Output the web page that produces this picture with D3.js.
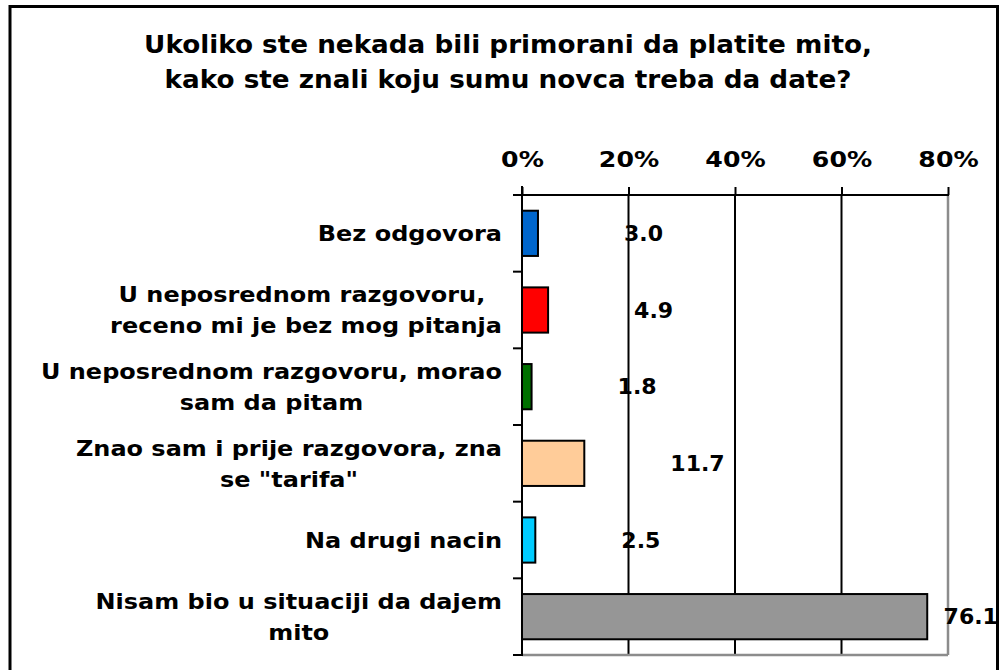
<!DOCTYPE html>
<html>
<head>
<meta charset="utf-8">
<script src="https://cdn.jsdelivr.net/npm/d3@7"></script>
<style>
  html, body { margin: 0; padding: 0; background: #fff; }
  svg text { font-family: "DejaVu Sans", Verdana, sans-serif; font-weight: bold; fill: #000; white-space: pre; }
</style>
</head>
<body>
<svg id="chart" width="999" height="670"></svg>
<script>
// ---- data ----
const titleLines = ["Ukoliko ste nekada bili primorani da platite mito,", "kako ste znali koju sumu novca treba da date?"];
const categories = [
  "Bez odgovora",
  "U neposrednom razgovoru, \nreceno mi je bez mog pitanja",
  "U neposrednom razgovoru, morao\nsam da pitam",
  "Znao sam i prije razgovora, zna\nse \"tarifa\"",
  "Na drugi nacin",
  "Nisam bio u situaciji da dajem\nmito"
];
const values = [3.0, 4.9, 1.8, 11.7, 2.5, 76.1];
const colors = ["#0066CC", "#FF0000", "#007000", "#FFCC99", "#00CCFF", "#969696"];
const tickValues = [0, 20, 40, 60, 80];
const tickLabels = ["0%", "20%", "40%", "60%", "80%"];

// ---- layout ----
const W = 999, H = 670;
const plot = { left: 522, top: 195, right: 948, bottom: 655 };
const svg = d3.select("#chart");

// outer frame
svg.append("rect")
  .attr("x", 10).attr("y", 6.5)
  .attr("width", 987.5).attr("height", 700)
  .attr("fill", "#fff").attr("stroke", "#000").attr("stroke-width", 3);

// title
const tg = svg.append("g").attr("transform", "translate(508,0) scale(1.05,1)");
tg.selectAll("text").data(titleLines).join("text")
  .attr("x", 0).attr("y", (d, i) => 53.3 + i * 35)
  .attr("text-anchor", "middle")
  .style("font-size", "25px")
  .text(d => d);

// scales
const x = d3.scaleLinear().domain([0, 80]).range([plot.left, plot.right]);
const y = d3.scaleBand().domain(d3.range(categories.length))
  .range([plot.top, plot.bottom]).paddingInner(0.41).paddingOuter(0.205);
const step = y.step();

// gridlines
svg.append("g").selectAll("line").data(tickValues.filter(v => v > 0 && v < 80)).join("line")
  .attr("x1", d => x(d)).attr("x2", d => x(d))
  .attr("y1", plot.top).attr("y2", plot.bottom)
  .attr("stroke", "#000").attr("stroke-width", 2);

// gray right and bottom border of plot area
svg.append("line").attr("x1", x(80)).attr("x2", x(80)).attr("y1", plot.top).attr("y2", plot.bottom)
  .attr("stroke", "#8c8c8c").attr("stroke-width", 2.5);
svg.append("line").attr("x1", plot.left).attr("x2", x(80)).attr("y1", plot.bottom).attr("y2", plot.bottom)
  .attr("stroke", "#8c8c8c").attr("stroke-width", 2.5);

// bars
svg.append("g").selectAll("rect").data(values).join("rect")
  .attr("x", x(0))
  .attr("y", (d, i) => y(i))
  .attr("width", d => x(d) - x(0))
  .attr("height", y.bandwidth())
  .attr("fill", (d, i) => colors[i])
  .attr("stroke", "#000").attr("stroke-width", 2);

// top axis
const xAxis = d3.axisTop(x).tickValues(tickValues).tickFormat((d, i) => tickLabels[i])
  .tickSize(8).tickPadding(20);
const xa = svg.append("g").attr("transform", `translate(0,${plot.top})`).call(xAxis);
xa.select(".domain").remove();
xa.selectAll(".tick line").attr("stroke", "#000").attr("stroke-width", 2);
xa.selectAll(".tick text")
  .attr("transform", "scale(1.2,1)")
  .style("font-size", "21px")
  .style("font-family", "'DejaVu Sans', Verdana, sans-serif")
  .style("font-weight", "bold")
  .attr("fill", "#000");
svg.append("line").attr("x1", plot.left - 9).attr("x2", x(80) + 1).attr("y1", plot.top).attr("y2", plot.top)
  .attr("stroke", "#000").attr("stroke-width", 2);

// left axis with category boundary ticks
svg.append("line").attr("x1", plot.left).attr("x2", plot.left).attr("y1", plot.top - 9).attr("y2", plot.bottom + 1)
  .attr("stroke", "#000").attr("stroke-width", 2);
svg.append("g").selectAll("line").data(d3.range(categories.length + 1)).join("line")
  .attr("x1", plot.left - 9).attr("x2", plot.left)
  .attr("y1", i => plot.top + i * step).attr("y2", i => plot.top + i * step)
  .attr("stroke", "#000").attr("stroke-width", 2);

// category labels (block right-aligned, lines centered inside block)
const labelRight = 502, labelSx = 1.09, lineH = 31, capH = 16;
categories.forEach((c, i) => {
  const lines = c.split("\n");
  const cy = y(i) + y.bandwidth() / 2;
  const g = svg.append("g").attr("transform", `translate(${labelRight},0) scale(${labelSx},1)`);
  const texts = g.selectAll("text").data(lines).join("text")
    .style("font-size", "22px")
    .attr("text-anchor", "middle")
    .attr("y", (d, k) => cy + capH / 2 + (k - (lines.length - 1) / 2) * lineH)
    .text(d => d);
  let maxW = 0;
  texts.each(function () { maxW = Math.max(maxW, this.getComputedTextLength()); });
  texts.attr("x", -maxW / 2);
});

// value labels
const valOffset = 86, valSx = 1.05, frameInner = 998;
values.forEach((v, i) => {
  const cy = y(i) + y.bandwidth() / 2;
  const t = svg.append("text")
    .style("font-size", "21px")
    .attr("text-anchor", "start")
    .text(v.toFixed(1));
  const w = t.node().getComputedTextLength() * valSx;
  const x0 = Math.min(x(v) + valOffset, frameInner - w);
  t.attr("transform", `translate(${x0},${cy + 7.5}) scale(${valSx},1)`);
});
</script>
</body>
</html>
